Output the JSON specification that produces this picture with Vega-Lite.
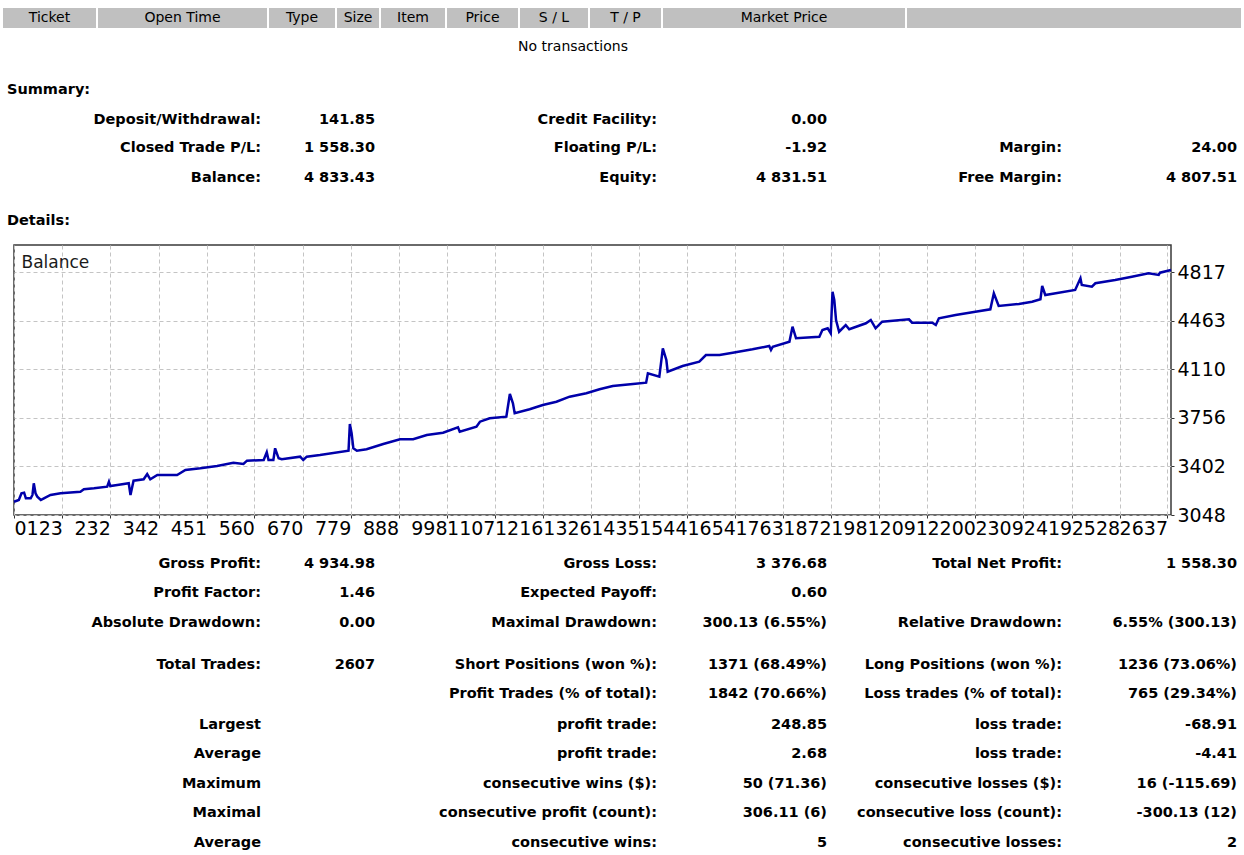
{
  "$schema": "https://vega.github.io/schema/vega-lite/v6.json",
  "padding": {"left": 0, "top": 6, "right": 0, "bottom": 0},
  "autosize": {"type": "pad"},
  "background": "white",
  "spacing": 0,
  "config": {
    "view": {"stroke": null},
    "font": "DejaVu Sans",
    "text": {"font": "DejaVu Sans", "color": "#000000"}
  },
  "datasets": {
    "header": [
      {"name": "Ticket", "c": 0, "c2": 1},
      {"name": "Open Time", "c": 1, "c2": 2},
      {"name": "Type", "c": 2, "c2": 3},
      {"name": "Size", "c": 3, "c2": 4},
      {"name": "Item", "c": 4, "c2": 5},
      {"name": "Price", "c": 5, "c2": 6},
      {"name": "S / L", "c": 6, "c2": 7},
      {"name": "T / P", "c": 7, "c2": 8},
      {"name": "Market Price", "c": 8, "c2": 9},
      {"name": "", "c": 9, "c2": 10}
    ],
    "summary": [
      {"line": 0, "col": 3, "text": "No transactions", "kind": "center"},
      {"line": 1, "col": 0, "text": "Summary:", "kind": "heading"},
      {"line": 2, "col": 1, "text": "Deposit/Withdrawal:", "kind": "cell"},
      {"line": 2, "col": 2, "text": "141.85", "kind": "cell"},
      {"line": 2, "col": 4, "text": "Credit Facility:", "kind": "cell"},
      {"line": 2, "col": 5, "text": "0.00", "kind": "cell"},
      {"line": 3, "col": 1, "text": "Closed Trade P/L:", "kind": "cell"},
      {"line": 3, "col": 2, "text": "1 558.30", "kind": "cell"},
      {"line": 3, "col": 4, "text": "Floating P/L:", "kind": "cell"},
      {"line": 3, "col": 5, "text": "-1.92", "kind": "cell"},
      {"line": 3, "col": 6, "text": "Margin:", "kind": "cell"},
      {"line": 3, "col": 7, "text": "24.00", "kind": "cell"},
      {"line": 4, "col": 1, "text": "Balance:", "kind": "cell"},
      {"line": 4, "col": 2, "text": "4 833.43", "kind": "cell"},
      {"line": 4, "col": 4, "text": "Equity:", "kind": "cell"},
      {"line": 4, "col": 5, "text": "4 831.51", "kind": "cell"},
      {"line": 4, "col": 6, "text": "Free Margin:", "kind": "cell"},
      {"line": 4, "col": 7, "text": "4 807.51", "kind": "cell"},
      {"line": 5, "col": 0, "text": "Details:", "kind": "heading"}
    ],
    "stats": [
      {"line": 0, "col": 1, "text": "Gross Profit:"},
      {"line": 0, "col": 2, "text": "4 934.98"},
      {"line": 0, "col": 4, "text": "Gross Loss:"},
      {"line": 0, "col": 5, "text": "3 376.68"},
      {"line": 0, "col": 6, "text": "Total Net Profit:"},
      {"line": 0, "col": 7, "text": "1 558.30"},
      {"line": 1, "col": 1, "text": "Profit Factor:"},
      {"line": 1, "col": 2, "text": "1.46"},
      {"line": 1, "col": 4, "text": "Expected Payoff:"},
      {"line": 1, "col": 5, "text": "0.60"},
      {"line": 2, "col": 1, "text": "Absolute Drawdown:"},
      {"line": 2, "col": 2, "text": "0.00"},
      {"line": 2, "col": 4, "text": "Maximal Drawdown:"},
      {"line": 2, "col": 5, "text": "300.13 (6.55%)"},
      {"line": 2, "col": 6, "text": "Relative Drawdown:"},
      {"line": 2, "col": 7, "text": "6.55% (300.13)"},
      {"line": 3, "col": 1, "text": "Total Trades:"},
      {"line": 3, "col": 2, "text": "2607"},
      {"line": 3, "col": 4, "text": "Short Positions (won %):"},
      {"line": 3, "col": 5, "text": "1371 (68.49%)"},
      {"line": 3, "col": 6, "text": "Long Positions (won %):"},
      {"line": 3, "col": 7, "text": "1236 (73.06%)"},
      {"line": 4, "col": 4, "text": "Profit Trades (% of total):"},
      {"line": 4, "col": 5, "text": "1842 (70.66%)"},
      {"line": 4, "col": 6, "text": "Loss trades (% of total):"},
      {"line": 4, "col": 7, "text": "765 (29.34%)"},
      {"line": 5, "col": 1, "text": "Largest"},
      {"line": 5, "col": 4, "text": "profit trade:"},
      {"line": 5, "col": 5, "text": "248.85"},
      {"line": 5, "col": 6, "text": "loss trade:"},
      {"line": 5, "col": 7, "text": "-68.91"},
      {"line": 6, "col": 1, "text": "Average"},
      {"line": 6, "col": 4, "text": "profit trade:"},
      {"line": 6, "col": 5, "text": "2.68"},
      {"line": 6, "col": 6, "text": "loss trade:"},
      {"line": 6, "col": 7, "text": "-4.41"},
      {"line": 7, "col": 1, "text": "Maximum"},
      {"line": 7, "col": 4, "text": "consecutive wins ($):"},
      {"line": 7, "col": 5, "text": "50 (71.36)"},
      {"line": 7, "col": 6, "text": "consecutive losses ($):"},
      {"line": 7, "col": 7, "text": "16 (-115.69)"},
      {"line": 8, "col": 1, "text": "Maximal"},
      {"line": 8, "col": 4, "text": "consecutive profit (count):"},
      {"line": 8, "col": 5, "text": "306.11 (6)"},
      {"line": 8, "col": 6, "text": "consecutive loss (count):"},
      {"line": 8, "col": 7, "text": "-300.13 (12)"},
      {"line": 9, "col": 1, "text": "Average"},
      {"line": 9, "col": 4, "text": "consecutive wins:"},
      {"line": 9, "col": 5, "text": "5"},
      {"line": 9, "col": 6, "text": "consecutive losses:"},
      {"line": 9, "col": 7, "text": "2"}
    ],
    "balance": [
      {"trade": 13, "balance": 3144.9}, {"trade": 24, "balance": 3157.3}, {"trade": 30, "balance": 3206.2},
      {"trade": 36, "balance": 3210.5}, {"trade": 40, "balance": 3169.7}, {"trade": 51, "balance": 3169.7},
      {"trade": 55, "balance": 3193.8}, {"trade": 58, "balance": 3279.1}, {"trade": 62, "balance": 3206.2},
      {"trade": 66, "balance": 3181.4}, {"trade": 74, "balance": 3157.3}, {"trade": 81, "balance": 3169.7},
      {"trade": 96, "balance": 3193.8}, {"trade": 119, "balance": 3206.2}, {"trade": 164, "balance": 3217.8},
      {"trade": 172, "balance": 3235.3}, {"trade": 195, "balance": 3242.6}, {"trade": 225, "balance": 3254.3},
      {"trade": 229, "balance": 3290.7}, {"trade": 232, "balance": 3259.4}, {"trade": 248, "balance": 3266.7},
      {"trade": 274, "balance": 3279.1}, {"trade": 278, "balance": 3193.8}, {"trade": 282, "balance": 3254.3},
      {"trade": 285, "balance": 3298.0}, {"trade": 308, "balance": 3308.2}, {"trade": 316, "balance": 3346.8},
      {"trade": 323, "balance": 3308.2}, {"trade": 339, "balance": 3339.6}, {"trade": 384, "balance": 3339.6},
      {"trade": 403, "balance": 3376.0}, {"trade": 437, "balance": 3388.4}, {"trade": 475, "balance": 3405.2},
      {"trade": 512, "balance": 3429.2}, {"trade": 535, "balance": 3419.7}, {"trade": 543, "balance": 3443.8},
      {"trade": 581, "balance": 3448.9}, {"trade": 588, "balance": 3505.0}, {"trade": 592, "balance": 3448.9},
      {"trade": 603, "balance": 3448.9}, {"trade": 607, "balance": 3534.2}, {"trade": 615, "balance": 3461.3},
      {"trade": 622, "balance": 3454.0}, {"trade": 664, "balance": 3473.0}, {"trade": 671, "balance": 3448.9},
      {"trade": 679, "balance": 3473.0}, {"trade": 709, "balance": 3485.3}, {"trade": 774, "balance": 3516.7},
      {"trade": 777, "balance": 3711.3}, {"trade": 781, "balance": 3643.5}, {"trade": 785, "balance": 3534.2},
      {"trade": 793, "balance": 3516.7}, {"trade": 815, "balance": 3526.9}, {"trade": 853, "balance": 3565.5},
      {"trade": 891, "balance": 3599.8}, {"trade": 921, "balance": 3599.8}, {"trade": 952, "balance": 3631.1},
      {"trade": 989, "balance": 3647.9}, {"trade": 1023, "balance": 3687.2}, {"trade": 1027, "balance": 3655.2},
      {"trade": 1065, "balance": 3691.6}, {"trade": 1073, "balance": 3728.1}, {"trade": 1095, "balance": 3752.8},
      {"trade": 1133, "balance": 3764.5}, {"trade": 1141, "balance": 3930.0}, {"trade": 1148, "balance": 3862.2},
      {"trade": 1152, "balance": 3789.3}, {"trade": 1186, "balance": 3818.5}, {"trade": 1216, "balance": 3849.8},
      {"trade": 1247, "balance": 3873.8}, {"trade": 1277, "balance": 3910.3}, {"trade": 1315, "balance": 3935.1},
      {"trade": 1345, "balance": 3964.2}, {"trade": 1375, "balance": 3988.3}, {"trade": 1421, "balance": 4002.9},
      {"trade": 1451, "balance": 4012.3}, {"trade": 1455, "balance": 4080.9}, {"trade": 1481, "balance": 4056.1},
      {"trade": 1489, "balance": 4263.1}, {"trade": 1497, "balance": 4177.8}, {"trade": 1500, "balance": 4092.5},
      {"trade": 1534, "balance": 4134.1}, {"trade": 1572, "balance": 4165.4}, {"trade": 1587, "balance": 4214.2},
      {"trade": 1618, "balance": 4214.2}, {"trade": 1648, "balance": 4231.0}, {"trade": 1693, "balance": 4255.8},
      {"trade": 1731, "balance": 4279.8}, {"trade": 1735, "balance": 4250.7}, {"trade": 1739, "balance": 4274.7},
      {"trade": 1777, "balance": 4311.2}, {"trade": 1784, "balance": 4420.5}, {"trade": 1792, "balance": 4336.0},
      {"trade": 1845, "balance": 4347.6}, {"trade": 1852, "balance": 4396.5}, {"trade": 1864, "balance": 4408.9},
      {"trade": 1871, "balance": 4372.4}, {"trade": 1875, "balance": 4675.6}, {"trade": 1879, "balance": 4615.1},
      {"trade": 1883, "balance": 4469.4}, {"trade": 1890, "balance": 4384.1}, {"trade": 1905, "balance": 4432.9},
      {"trade": 1913, "balance": 4401.6}, {"trade": 1951, "balance": 4445.3}, {"trade": 1962, "balance": 4469.4},
      {"trade": 1973, "balance": 4408.9}, {"trade": 1988, "balance": 4457.0}, {"trade": 2049, "balance": 4474.5},
      {"trade": 2056, "balance": 4449.7}, {"trade": 2102, "balance": 4449.7}, {"trade": 2110, "balance": 4432.9},
      {"trade": 2117, "balance": 4481.8}, {"trade": 2155, "balance": 4505.8}, {"trade": 2200, "balance": 4529.9},
      {"trade": 2234, "balance": 4547.4}, {"trade": 2242, "balance": 4664.0}, {"trade": 2253, "balance": 4571.4},
      {"trade": 2299, "balance": 4586.0}, {"trade": 2329, "balance": 4602.7}, {"trade": 2348, "balance": 4620.2},
      {"trade": 2352, "balance": 4717.2}, {"trade": 2359, "balance": 4651.6}, {"trade": 2427, "balance": 4688.0},
      {"trade": 2439, "balance": 4773.3}, {"trade": 2442, "balance": 4724.5}, {"trade": 2465, "balance": 4712.1},
      {"trade": 2473, "balance": 4736.9}, {"trade": 2518, "balance": 4760.9}, {"trade": 2556, "balance": 4785.0},
      {"trade": 2594, "balance": 4809.8}, {"trade": 2617, "balance": 4797.4}, {"trade": 2620, "balance": 4814.1},
      {"trade": 2645, "balance": 4833.43}
    ]
  },
  "vconcat": [
    {
      "width": 1244,
      "height": 22,
      "data": {"name": "header"},
      "layer": [
        {
          "mark": {"type": "rect", "fill": "#c0c0c0", "stroke": "#ffffff", "strokeWidth": 2},
          "encoding": {
            "x": {"field": "c", "type": "quantitative", "axis": null,
              "scale": {"domain": [0, 1, 2, 3, 4, 5, 6, 7, 8, 9, 10], "range": [2, 97, 268, 336, 380, 446, 519, 589, 662, 906, 1242], "zero": false, "nice": false}},
            "x2": {"field": "c2"}
          }
        },
        {
          "mark": {"type": "text", "fontSize": 14, "align": "center", "baseline": "middle", "color": "#000000"},
          "encoding": {
            "x": {"field": "c", "type": "quantitative", "axis": null,
              "scale": {"domain": [0, 1, 2, 3, 4, 5, 6, 7, 8, 9], "range": [49.5, 182.5, 302, 358, 413, 482.5, 554, 625.5, 784, 1074], "zero": false, "nice": false}},
            "text": {"field": "name"}
          }
        }
      ],
      "resolve": {"scale": {"x": "independent"}}
    },
    {
      "width": 1244,
      "height": 214,
      "data": {"name": "summary"},
      "encoding": {
        "x": {"field": "col", "type": "quantitative", "axis": null,
          "scale": {"domain": [0, 1, 2, 3, 4, 5, 6, 7], "range": [7, 261, 375, 573, 657, 827, 1062, 1237], "zero": false, "nice": false}},
        "y": {"field": "line", "type": "quantitative", "axis": null,
          "scale": {"domain": [0, 1, 2, 3, 4, 5], "range": [16.5, 59.5, 89.8, 118, 148, 190.5], "zero": false, "nice": false}},
        "text": {"field": "text"}
      },
      "layer": [
        {
          "transform": [{"filter": "datum.kind === 'center'"}],
          "mark": {"type": "text", "fontSize": 14, "align": "center", "baseline": "middle"}
        },
        {
          "transform": [{"filter": "datum.kind === 'heading'"}],
          "mark": {"type": "text", "fontSize": 14.5, "fontWeight": "bold", "align": "left", "baseline": "middle"}
        },
        {
          "transform": [{"filter": "datum.kind === 'cell'"}],
          "mark": {"type": "text", "fontSize": 14.5, "fontWeight": "bold", "align": "right", "baseline": "middle"}
        }
      ]
    },
    {
      "spacing": 0,
      "hconcat": [
        {
          "width": 8,
          "height": 270,
          "data": {"values": [{"spacer": 1}]},
          "mark": {"type": "point", "opacity": 0},
          "encoding": {}
        },
        {
          "width": 1157,
          "height": 270,
          "view": {"stroke": "#3a3a3a", "strokeWidth": 1.5},
          "layer": [
            {
              "data": {"name": "balance"},
              "mark": {"type": "line", "color": "#0000aa", "strokeWidth": 2.5},
              "encoding": {
                "x": {"field": "trade", "type": "quantitative",
                  "scale": {"domain": [13, 2645], "zero": false, "nice": false},
                  "axis": {
                    "orient": "bottom",
                    "title": null,
                    "values": [13, 123, 232, 342, 451, 560, 670, 779, 888, 998, 1107, 1216, 1326, 1435, 1544, 1654, 1763, 1872, 1981, 2091, 2200, 2309, 2419, 2528, 2637],
                    "format": "d",
                    "labelExpr": "datum.value < 20 ? '0' : datum.label",
                    "labelAlign": {"condition": {"test": "datum.value < 20", "value": "left"}, "value": "right"},
                    "labelFlush": false,
                    "labelOverlap": false,
                    "labelFont": "DejaVu Sans",
                    "labelFontSize": 19,
                    "labelColor": "#000000",
                    "labelBaseline": "top",
                    "labelPadding": 1,
                    "tickSize": 3,
                    "tickColor": "#333333",
                    "domain": false,
                    "grid": true,
                    "gridColor": "#c4c4c4",
                    "gridDash": [4, 3],
                    "minExtent": 25,
                    "maxExtent": 25
                  }
                },
                "y": {"field": "balance", "type": "quantitative",
                  "scale": {"domain": [3048, 5016], "zero": false, "nice": false},
                  "axis": {
                    "orient": "right",
                    "title": null,
                    "values": [3048, 3402, 3756, 4110, 4463, 4817],
                    "format": "d",
                    "labelFont": "DejaVu Sans",
                    "labelFontSize": 19,
                    "labelColor": "#000000",
                    "labelPadding": 3,
                    "tickSize": 3,
                    "tickColor": "#333333",
                    "domain": false,
                    "grid": true,
                    "gridColor": "#c4c4c4",
                    "gridDash": [4, 3]
                  }
                }
              }
            },
            {
              "data": {"values": [{"label": "Balance"}]},
              "mark": {"type": "text", "align": "left", "baseline": "middle", "fontSize": 17, "font": "DejaVu Sans", "color": "#1a1a1a"},
              "encoding": {
                "x": {"datum": 30},
                "y": {"datum": 4885},
                "text": {"field": "label"}
              }
            }
          ]
        }
      ]
    },
    {
      "width": 1244,
      "height": 315,
      "data": {"name": "stats"},
      "mark": {"type": "text", "fontSize": 14.5, "fontWeight": "bold", "align": "right", "baseline": "middle"},
      "encoding": {
        "x": {"field": "col", "type": "quantitative", "axis": null,
          "scale": {"domain": [0, 1, 2, 3, 4, 5, 6, 7], "range": [7, 261, 375, 573, 657, 827, 1062, 1237], "zero": false, "nice": false}},
        "y": {"field": "line", "type": "quantitative", "axis": null,
          "scale": {"domain": [0, 1, 2, 3, 4, 5, 6, 7, 8, 9], "range": [23, 52, 82, 124, 153, 184, 213, 243, 272, 302], "zero": false, "nice": false}},
        "text": {"field": "text"}
      }
    }
  ]
}
